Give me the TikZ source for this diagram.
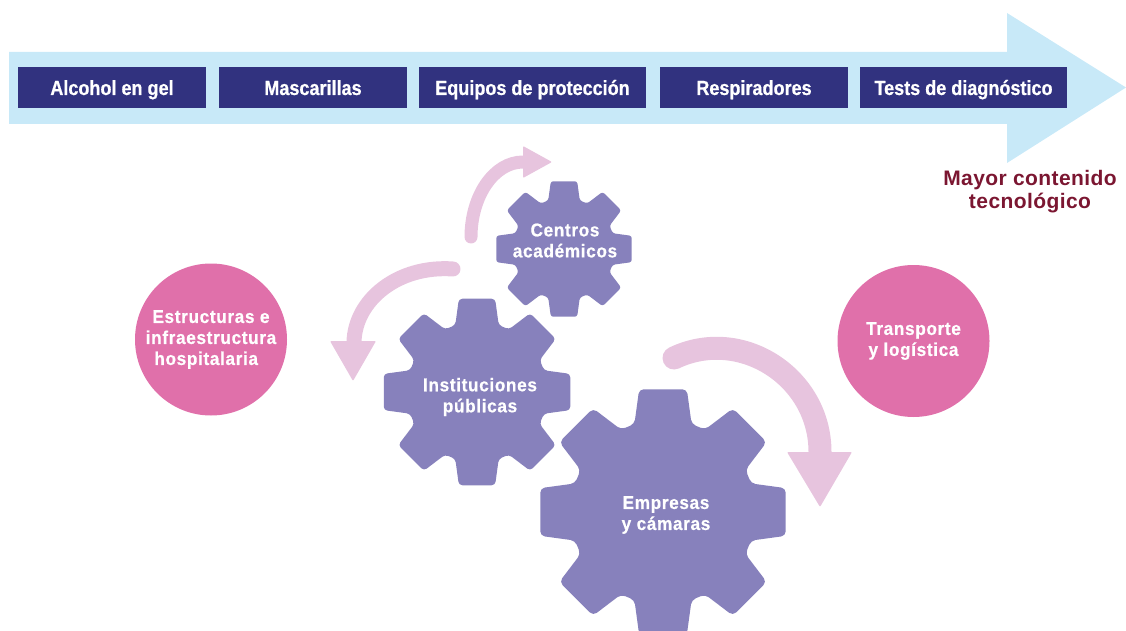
\documentclass[tikz,border=0pt]{standalone}
\usepackage{fontspec}
\setmainfont{Liberation Sans}
\newfontfamily\boxfont[FakeStretch=0.88,FakeBold=0.6]{Liberation Sans}
\newfontfamily\gearfont[FakeStretch=0.93,LetterSpace=3.5,FakeBold=0.6]{Liberation Sans}
\newfontfamily\redfont[LetterSpace=2]{Liberation Sans}
\definecolor{arrowblue}{RGB}{200,233,248}
\definecolor{navy}{RGB}{49,50,127}
\definecolor{pinkc}{RGB}{224,112,170}
\definecolor{gearc}{RGB}{135,129,188}
\definecolor{lilac}{RGB}{231,196,222}
\definecolor{darkred}{RGB}{123,22,49}
\tikzset{
  pbox/.style={fill=navy, text=white, minimum height=41pt, inner sep=0pt,
    text height=15pt, text depth=0pt,
    font=\boxfont\bfseries\fontsize{20.5}{24}\selectfont},
  gtext/.style={text=white, align=center, inner sep=0pt,
    font=\gearfont\bfseries\fontsize{18.5}{21}\selectfont},
  circ/.style={circle, fill=pinkc, minimum size=152pt, inner sep=0pt,
    text=white, align=center, font=\gearfont\bfseries\fontsize{18.5}{21}\selectfont},
  flow/.style={draw=lilac, line cap=round},
  head/.style={fill=lilac, rounded corners=1pt},
}
\newcommand\gearpath[4]{%
  \begin{scope}[shift={(#1,#2)}]
    \fill[gearc, rounded corners=#4]
      (-22.5:{0.74*#3})
      \foreach \t in {0,45,...,315}{
        -- (\t-18:{0.74*#3}) -- (\t-11:#3) -- (\t+11:#3) -- (\t+18:{0.74*#3})
      } -- cycle;
  \end{scope}}
\begin{document}
\begin{tikzpicture}[x=1pt,y=-1pt]
\useasboundingbox (0,0) rectangle (1126,631);
\clip (0,0) rectangle (1126,631);
% big arrow
\fill[arrowblue] (9,52) -- (1007,52) -- (1007,13) -- (1126,87.5) -- (1007,163) -- (1007,124) -- (9,124) -- cycle;
% boxes
\node[pbox, minimum width=188pt] (b1) at (112,87.5) {Alcohol en gel};
\node[pbox, minimum width=188pt] (b2) at (313,87.5) {Mascarillas};
\node[pbox, minimum width=227pt] (b3) at (532.5,87.5) {Equipos de protección};
\node[pbox, minimum width=188pt] (b4) at (754,87.5) {Respiradores};
\node[pbox, minimum width=207pt] (b5) at (963.5,87.5) {Tests de diagnóstico};
% label
\node[text=darkred, align=center, inner sep=0pt,
  font=\redfont\bfseries\fontsize{21}{23}\selectfont] (mc) at (1030,191.5) {Mayor contenido\\tecnológico};
% circles
\node[circ] (est) at (211,339.5) {Estructuras e\\infraestructura\\hospitalaria\hphantom{a}};
\node[circ] (tra) at (913.5,341) {Transporte\\y logística};
% gears
\gearpath{564}{249}{69}{2.5pt}
\gearpath{477}{392}{95}{3.5pt}
\gearpath{663}{512}{125}{4.5pt}
\node[gtext] (cen) at (565,240.5) {Centros\\académicos};
\node[gtext] (ins) at (480,397) {Instituciones\\públicas};
\node[gtext] (emp) at (666,515) {Empresas\\y cámaras};
% curved arrows
\coordinate (a0) at (471,237);
\coordinate (a1) at (523,162);
\draw[flow, line width=13pt] (a0) .. controls (471,196) and (494,162) .. (a1);
\fill[head] (523,146) -- (552,162) -- (523,178) -- cycle;
\coordinate (c0) at (453,269);
\coordinate (c1) at (354,342);
\draw[flow, line width=15pt] (c0) .. controls (398,265) and (355,300) .. (c1);
\fill[head] (330,341) -- (376,341) -- (353,381) -- cycle;
\coordinate (d0) at (674,358);
\coordinate (d1) at (820,452);
\draw[flow, line width=23pt] (d0) .. controls (741,326) and (820,377) .. (d1);
\fill[head] (787,452) -- (852,452) -- (820,507) -- cycle;
\end{tikzpicture}
\end{document}
